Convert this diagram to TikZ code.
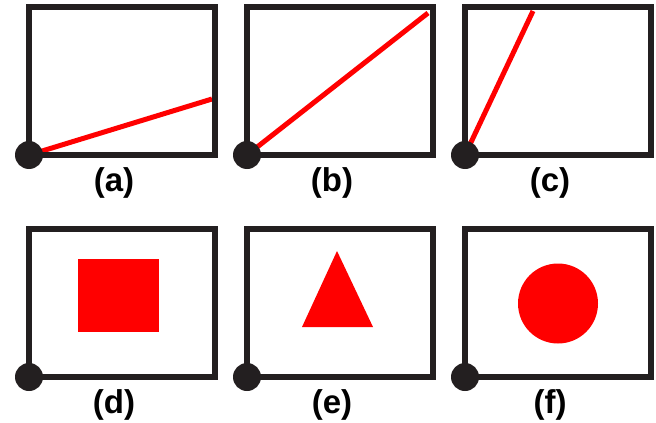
\documentclass[tikz,border=0pt]{standalone}
\usepackage{fontspec}
\setmainfont{Liberation Sans}
\usepackage{tikz}
\usetikzlibrary{calc}
\definecolor{inkblack}{RGB}{35,31,32}
\definecolor{inkred}{RGB}{255,0,0}

\begin{document}
\begin{tikzpicture}[x=1pt,y=-1pt,
    frame/.style={line width=6pt,draw=inkblack},
    ray/.style={line width=5pt,draw=inkred},
    origin/.style={fill=inkblack},
    caption/.style={inner sep=0pt,font=\bfseries\fontsize{33}{36}\selectfont}]
    \useasboundingbox (0,0) rectangle (656,423);
    % rays (top row)
    \draw[ray] (29,155) -- (212,99);
    \draw[ray] (247,155) -- (428,13);
    \draw[ray] (465,155) -- (533,11);
    % shapes (bottom row)
    \fill[inkred] (78,259) rectangle (159,332);
    \fill[inkred] (337,251) -- (373,327) -- (302,327) -- cycle;
    \fill[inkred] (558,303.5) circle (40);
    % frames, origins and captions
    \foreach \c/\x in {0/29,1/247,2/465}{
      \foreach \r/\y/\l in {0/7/a,1/229/d}{
        \pgfmathtruncatemacro{\k}{\c+3*\r}
        \draw[frame] (\x,\y) rectangle (\x+186,\y+148);
        \coordinate (o\k) at (\x,\y+148);
        \fill[origin] (o\k) circle (14);
      }
    }
    \node[caption] (ca) at (114,183) {(a)};
    \node[caption] (cb) at (332,183) {(b)};
    \node[caption] (cc) at (550,183) {(c)};
    \node[caption] (cd) at (114,405) {(d)};
    \node[caption] (ce) at (332,405) {(e)};
    \node[caption] (cf) at (550,405) {(f)};
\end{tikzpicture}
\end{document}
